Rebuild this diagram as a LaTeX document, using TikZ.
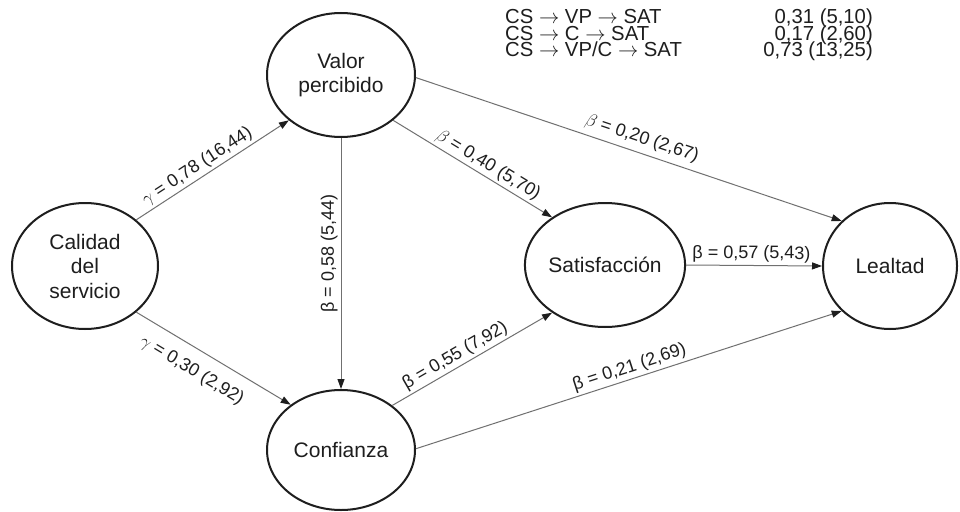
\RequirePackage{fix-cm}
\documentclass[tikz,border=0pt]{standalone}
\usepackage{fontspec}
\setmainfont{Liberation Sans}
\usetikzlibrary{shapes.geometric,arrows.meta}
\definecolor{ink}{HTML}{1E1E1E}
\definecolor{wire}{HTML}{707070}
\begin{document}
\begin{tikzpicture}[x=1pt,y=-1pt,
  latent/.style={draw=ink, line width=2pt, ellipse, inner sep=0pt, text=ink,
    font=\fontsize{21}{24.5}\selectfont, align=center},
  conn/.style={draw=wire, line width=1pt,
    -{Triangle[length=10pt,width=7pt,color=ink,fill=ink]}},
  lab/.style={font=\fontsize{18}{20}\selectfont, text=ink, sloped, inner sep=2.5pt},
  vlab/.style={font=\fontsize{18}{20}\selectfont, text=ink, rotate=90, anchor=south, inner sep=3pt},
  tabl/.style={font=\fontsize{20.3}{20}\selectfont, text=ink, inner sep=0pt, anchor=base west},
  tabr/.style={font=\fontsize{20.3}{20}\selectfont, text=ink, inner sep=0pt, anchor=base east}]
\useasboundingbox (0,0) rectangle (960,511);
\fill[white] (0,0) rectangle (960,511);

\node[latent, minimum width=146, minimum height=126] (cal) at (85,266) {Calidad\\del\\servicio};
\node[latent, minimum width=148, minimum height=124] (val) at (341,75) {Valor\\percibido};
\node[latent, minimum width=148, minimum height=120] (con) at (341,450) {Confianza};
\node[latent, minimum width=144, minimum height=124] (sat) at (605,265) {Satisfacción};
\node[latent, minimum width=134, minimum height=126] (lea) at (890,266) {Lealtad};

\draw[conn] (cal.42) -- node[lab, above, pos=0.44] {$\gamma$ = 0,78 (16,44)} (val.221);
\draw[conn] (cal.318) -- node[lab, below=10pt, pos=0.43] {$\gamma$ = 0,30 (2,92)} (con.138);
\draw[conn] (val.270) -- node[vlab, pos=0.46] {β = 0,58 (5,44)} (con.90);
\draw[conn] (val.319) -- node[lab, above, pos=0.56] {$\beta$ = 0,40 (5,70)} (sat.138.5);
\draw[conn] (val.358) -- node[lab, above=3pt, pos=0.52] {$\beta$ = 0,20 (2,67)} (lea.137);
\draw[conn] (sat.0) -- node[lab, above, pos=0.48] {β = 0,57 (5,43)} (lea.180);
\draw[conn] (con.41) -- node[lab, above, pos=0.43] {β = 0,55 (7,92)} (sat.222.7);
\draw[conn] (con.1) -- node[lab, above, pos=0.51] {β = 0,21 (2,69)} (lea.223.8);

\node[tabl] (r1l) at (505,24) {CS $\rightarrow$ VP $\rightarrow$ SAT};
\node[tabl] (r2l) at (505,40.3) {CS $\rightarrow$ C $\rightarrow$ SAT};
\node[tabl] (r3l) at (505,56.6) {CS $\rightarrow$ VP/C $\rightarrow$ SAT};
\node[tabr] (r1r) at (873,24) {0,31 (5,10)};
\node[tabr] (r2r) at (873,40.3) {0,17 (2,60)};
\node[tabr] (r3r) at (873,56.6) {0,73 (13,25)};
\end{tikzpicture}
\end{document}
